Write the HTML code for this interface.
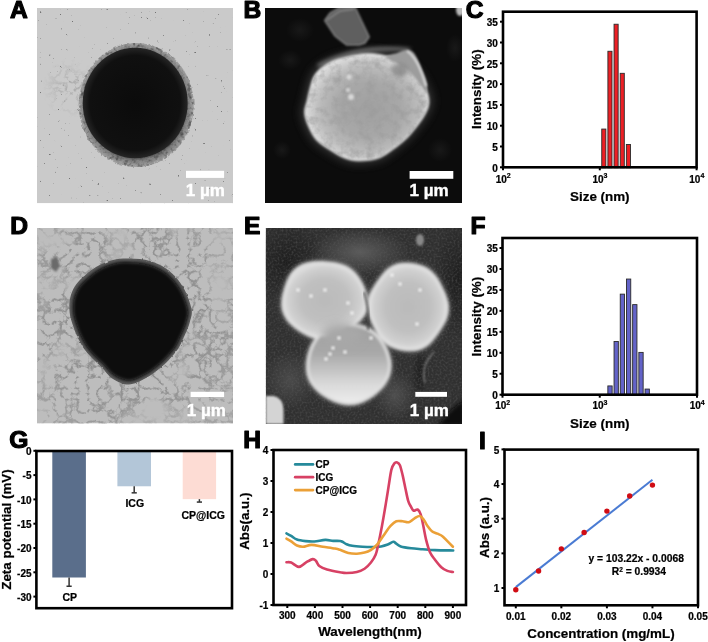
<!DOCTYPE html>
<html><head><meta charset="utf-8"><style>
html,body{margin:0;padding:0;background:#fff;width:708px;height:642px;overflow:hidden}
svg{display:block;will-change:transform}
text{font-family:"Liberation Sans", sans-serif;paint-order:stroke}
.k text,text.k{stroke:#000;stroke-width:0.22px}
</style></head><body>
<svg width="708" height="642" viewBox="0 0 708 642">
<rect width="708" height="642" fill="#fff"/>
<text x="10" y="18" font-size="24.6" text-anchor="start" fill="#000" font-weight="bold" stroke="#000" stroke-width="1.2" stroke-linejoin="round">A</text><text x="243.5" y="18" font-size="24.6" text-anchor="start" fill="#000" font-weight="bold" stroke="#000" stroke-width="1.2" stroke-linejoin="round">B</text><text x="465.7" y="18" font-size="24.6" text-anchor="start" fill="#000" font-weight="bold" stroke="#000" stroke-width="1.2" stroke-linejoin="round">C</text><text x="10.3" y="234.4" font-size="24.6" text-anchor="start" fill="#000" font-weight="bold" stroke="#000" stroke-width="1.2" stroke-linejoin="round">D</text><text x="244" y="234.1" font-size="24.6" text-anchor="start" fill="#000" font-weight="bold" stroke="#000" stroke-width="1.2" stroke-linejoin="round">E</text><text x="470.5" y="234.1" font-size="24.6" text-anchor="start" fill="#000" font-weight="bold" stroke="#000" stroke-width="1.2" stroke-linejoin="round">F</text><text x="9.3" y="448.1" font-size="24.6" text-anchor="start" fill="#000" font-weight="bold" stroke="#000" stroke-width="1.2" stroke-linejoin="round">G</text><text x="243.2" y="448.4" font-size="24.6" text-anchor="start" fill="#000" font-weight="bold" stroke="#000" stroke-width="1.2" stroke-linejoin="round">H</text><text x="478.9" y="448.8" font-size="24.6" text-anchor="start" fill="#000" font-weight="bold" stroke="#000" stroke-width="1.2" stroke-linejoin="round">I</text><defs><clipPath id="cA"><rect x="37" y="8" width="196" height="195.3"/></clipPath><clipPath id="cB"><rect x="265" y="8" width="197" height="195"/></clipPath><clipPath id="cD"><rect x="37" y="228" width="196" height="195.6"/></clipPath><clipPath id="cE"><rect x="265.7" y="228" width="196.3" height="196"/></clipPath><filter id="rough" x="-10%" y="-10%" width="120%" height="120%">
  <feTurbulence type="fractalNoise" baseFrequency="0.3" numOctaves="2" seed="4" result="t"/>
  <feDisplacementMap in="SourceGraphic" in2="t" scale="3.5" xChannelSelector="R" yChannelSelector="G"/>
</filter>
<filter id="rough2" x="-10%" y="-10%" width="120%" height="120%">
  <feTurbulence type="fractalNoise" baseFrequency="0.2" numOctaves="2" seed="4" result="t"/>
  <feDisplacementMap in="SourceGraphic" in2="t" scale="2.2" xChannelSelector="R" yChannelSelector="G"/>
  <feGaussianBlur stdDeviation="0.5"/>
</filter>
<filter id="grainA" x="0" y="0" width="1" height="1" color-interpolation-filters="sRGB">
  <feTurbulence type="fractalNoise" baseFrequency="0.25" numOctaves="2" seed="7" result="n"/>
  <feColorMatrix in="n" type="matrix" values="0 0 0 0 0.3  0 0 0 0 0.3  0 0 0 0 0.3  2.5 0 0 0 -1.2" result="c"/>
  <feComposite in="c" in2="SourceGraphic" operator="in"/>
</filter>
<filter id="dend" x="0" y="0" width="1" height="1" color-interpolation-filters="sRGB">
  <feTurbulence type="turbulence" baseFrequency="0.09" numOctaves="4" seed="11" result="n"/>
  <feColorMatrix in="n" type="matrix" values="0 0 0 0 0.56  0 0 0 0 0.56  0 0 0 0 0.56  -5 0 0 0 1.6" result="a1"/>
  <feTurbulence type="fractalNoise" baseFrequency="0.03" numOctaves="2" seed="3" result="m"/>
  <feColorMatrix in="m" type="matrix" values="0 0 0 0 0  0 0 0 0 0  0 0 0 0 0  3.5 0 0 0 -0.8" result="a2"/>
  <feComposite in="a1" in2="a2" operator="in"/>
</filter>
<filter id="speck" x="0" y="0" width="1" height="1" color-interpolation-filters="sRGB">
  <feTurbulence type="fractalNoise" baseFrequency="0.35" numOctaves="2" seed="21" result="n"/>
  <feColorMatrix in="n" type="matrix" values="0 0 0 0 0.45  0 0 0 0 0.45  0 0 0 0 0.45  -10 0 0 0 2.45"/>
</filter>
<filter id="grain" x="0" y="0" width="1" height="1" color-interpolation-filters="sRGB">
  <feTurbulence type="fractalNoise" baseFrequency="0.45" numOctaves="2" seed="8" result="n"/>
  <feColorMatrix in="n" type="matrix" values="0 0 0 0 1  0 0 0 0 1  0 0 0 0 1  1.2 0 0 0 -0.5"/>
</filter>
<filter id="grainE" x="0" y="0" width="1" height="1" color-interpolation-filters="sRGB">
  <feTurbulence type="fractalNoise" baseFrequency="0.5" numOctaves="2" seed="9" result="n"/>
  <feColorMatrix in="n" type="matrix" values="0 0 0 0 0.36  0 0 0 0 0.36  0 0 0 0 0.36  1.2 0 0 0 -0.5"/>
  <feGaussianBlur stdDeviation="0.6"/>
</filter>
<filter id="grainB" x="0" y="0" width="1" height="1" color-interpolation-filters="sRGB">
  <feTurbulence type="fractalNoise" baseFrequency="0.12" numOctaves="3" seed="15" result="n"/>
  <feColorMatrix in="n" type="matrix" values="0 0 0 0 0.6  0 0 0 0 0.6  0 0 0 0 0.6  1.5 0 0 0 -0.6" result="c"/>
  <feComposite in="c" in2="SourceGraphic" operator="in"/>
</filter>
<filter id="bl15" x="-20%" y="-20%" width="140%" height="140%"><feGaussianBlur stdDeviation="1.4"/></filter>
<filter id="bl1" x="-20%" y="-20%" width="140%" height="140%"><feGaussianBlur stdDeviation="1"/></filter>
<filter id="bl2" x="-30%" y="-30%" width="160%" height="160%"><feGaussianBlur stdDeviation="2"/></filter>
<filter id="bl4" x="-50%" y="-50%" width="200%" height="200%"><feGaussianBlur stdDeviation="4"/></filter>
<filter id="bl8" x="-80%" y="-80%" width="260%" height="260%"><feGaussianBlur stdDeviation="8"/></filter>
<radialGradient id="gB" cx="0.52" cy="0.52" r="0.52">
  <stop offset="0" stop-color="#a0a0a0"/>
  <stop offset="0.5" stop-color="#a8a8a8"/>
  <stop offset="0.78" stop-color="#bcbcbc"/>
  <stop offset="0.93" stop-color="#d2d2d2"/>
  <stop offset="1" stop-color="#dcdcdc"/>
</radialGradient>
<radialGradient id="gE" cx="0.5" cy="0.5" r="0.5">
  <stop offset="0" stop-color="#bababa"/>
  <stop offset="0.6" stop-color="#c0c0c0"/>
  <stop offset="0.9" stop-color="#d0d0d0"/>
  <stop offset="1" stop-color="#dcdcdc"/>
</radialGradient>
<linearGradient id="gE3" x1="0" y1="0" x2="0" y2="1">
  <stop offset="0" stop-color="#a0a0a0"/>
  <stop offset="0.35" stop-color="#a8a8a8"/>
  <stop offset="0.75" stop-color="#d8d8d8"/>
  <stop offset="1" stop-color="#ececec"/>
</linearGradient>
<radialGradient id="gCoreA" cx="0.5" cy="0.5" r="0.5">
  <stop offset="0" stop-color="#0b0b0b"/>
  <stop offset="0.86" stop-color="#101010"/>
  <stop offset="1" stop-color="#262626"/>
</radialGradient>
<radialGradient id="gHaloA" cx="0.5" cy="0.5" r="0.5">
  <stop offset="0.84" stop-color="#505050"/>
  <stop offset="0.9" stop-color="#7c7c7c"/>
  <stop offset="1" stop-color="#a2a2a2"/>
</radialGradient>
<radialGradient id="gSpot" cx="0.5" cy="0.5" r="0.5">
  <stop offset="0" stop-color="#282828" stop-opacity="1"/>
  <stop offset="1" stop-color="#282828" stop-opacity="0"/>
</radialGradient>
<radialGradient id="gMaskD" gradientUnits="userSpaceOnUse" cx="130" cy="322" r="125">
  <stop offset="0.45" stop-color="#fff"/>
  <stop offset="0.75" stop-color="#d8d8d8"/>
  <stop offset="1" stop-color="#909090"/>
</radialGradient>
<mask id="mD" maskUnits="userSpaceOnUse" x="37" y="228" width="196" height="196"><rect x="37" y="228" width="196" height="196" fill="url(#gMaskD)"/></mask>
<radialGradient id="gMaskA" gradientUnits="userSpaceOnUse" cx="72" cy="88" r="30">
  <stop offset="0" stop-color="#fff"/>
  <stop offset="1" stop-color="#000"/>
</radialGradient>
<mask id="mA" maskUnits="userSpaceOnUse" x="37" y="8" width="196" height="196"><rect x="37" y="8" width="196" height="196" fill="url(#gMaskA)"/></mask>
<radialGradient id="gE_bg1" cx="0.5" cy="0.5" r="0.5">
  <stop offset="0" stop-color="#1e1e1e" stop-opacity="1"/>
  <stop offset="1" stop-color="#1e1e1e" stop-opacity="0"/>
</radialGradient>
<radialGradient id="gE_bg2" cx="0.5" cy="0.5" r="0.5">
  <stop offset="0" stop-color="#5c5c5c" stop-opacity="1"/>
  <stop offset="1" stop-color="#5c5c5c" stop-opacity="0"/>
</radialGradient>
</defs><g clip-path="url(#cA)"><rect x="37" y="8" width="196" height="195.3" fill="#cacaca"/><rect x="37" y="8" width="196" height="195.3" filter="url(#speck)"/><rect x="37" y="8" width="196" height="195.3" filter="url(#dend)" mask="url(#mA)" opacity="0.55"/><ellipse cx="136.3" cy="105" rx="57.5" ry="62" fill="url(#gHaloA)" filter="url(#rough)"/><ellipse cx="136.3" cy="105" rx="57.5" ry="62" filter="url(#grainA)"/><ellipse cx="135.2" cy="103" rx="52.5" ry="55.3" fill="url(#gCoreA)"/><rect x="186" y="170.8" width="38.1" height="7.1" fill="#fff"/><text x="185.8" y="196" font-size="17" font-weight="bold" fill="#fff" stroke="#fff" stroke-width="0.4">1 µm</text></g><g clip-path="url(#cB)"><rect x="265" y="8" width="197" height="195" fill="#0c0c0c"/><ellipse cx="290" cy="60" rx="12" ry="10" fill="url(#gSpot)" opacity="0.45"/><ellipse cx="455" cy="48" rx="9" ry="14" fill="url(#gSpot)" opacity="0.45"/><ellipse cx="282" cy="150" rx="9" ry="9" fill="url(#gSpot)" opacity="0.45"/><ellipse cx="300" cy="30" rx="14" ry="12" fill="url(#gSpot)" opacity="0.45"/><ellipse cx="440" cy="150" rx="12" ry="12" fill="url(#gSpot)" opacity="0.45"/><ellipse cx="460" cy="10" rx="4" ry="6" fill="#bbb" filter="url(#bl1)"/><path d="M324.7,20.5 L330,13 L340.3,7 L355,7 L369.2,37 L365,43 L359.3,45 L346.6,45 L335,36 Z" fill="#5e5e5e" stroke="#7e7e7e" stroke-width="1.5" filter="url(#bl1)"/><path d="M327,20 L340,11 L354,9" fill="none" stroke="#8a8a8a" stroke-width="1.5" filter="url(#bl1)"/><path d="M305,112 C304.92,108.17 306.67,104.67 307.5,101 C308.33,97.33 308.97,93.83 310,90 C311.03,86.17 312.03,81.42 313.7,78 C315.37,74.58 316.88,72.25 320,69.5 C323.12,66.75 327.85,63.58 332.4,61.5 C336.95,59.42 341.87,58.25 347.3,57 C352.73,55.75 359.55,54.33 365,54 C370.45,53.67 375,54.17 380,55 C385,55.83 390.33,57.17 395,59 C399.67,60.83 404.17,63.17 408,66 C411.83,68.83 415.17,72.33 418,76 C420.83,79.67 423.28,84.33 425,88 C426.72,91.67 427.83,94.83 428.3,98 C428.77,101.17 428.68,103.83 427.8,107 C426.92,110.17 425,113.67 423,117 C421,120.33 418.42,123.67 415.8,127 C413.18,130.33 410.48,133.83 407.3,137 C404.12,140.17 401.3,142.63 396.7,146 C392.1,149.37 386.05,154.8 379.7,157.2 C373.35,159.6 364.6,160.4 358.6,160.4 C352.6,160.4 348.65,159.15 343.7,157.2 C338.75,155.25 333.48,151.73 328.9,148.7 C324.32,145.67 319.68,143.12 316.2,139 C312.72,134.88 309.87,128.5 308,124 C306.13,119.5 305.08,115.83 305,112 Z" fill="#505050" filter="url(#bl4)" transform="translate(367,107) scale(1.07) translate(-367,-107)" opacity="0.6"/><path d="M318,66 Q360,44 410,50" fill="none" stroke="#8a8a8a" stroke-width="3" filter="url(#bl2)"/><g filter="url(#bl1)"><path d="M305,112 C304.92,108.17 306.67,104.67 307.5,101 C308.33,97.33 308.97,93.83 310,90 C311.03,86.17 312.03,81.42 313.7,78 C315.37,74.58 316.88,72.25 320,69.5 C323.12,66.75 327.85,63.58 332.4,61.5 C336.95,59.42 341.87,58.25 347.3,57 C352.73,55.75 359.55,54.33 365,54 C370.45,53.67 375,54.17 380,55 C385,55.83 390.33,57.17 395,59 C399.67,60.83 404.17,63.17 408,66 C411.83,68.83 415.17,72.33 418,76 C420.83,79.67 423.28,84.33 425,88 C426.72,91.67 427.83,94.83 428.3,98 C428.77,101.17 428.68,103.83 427.8,107 C426.92,110.17 425,113.67 423,117 C421,120.33 418.42,123.67 415.8,127 C413.18,130.33 410.48,133.83 407.3,137 C404.12,140.17 401.3,142.63 396.7,146 C392.1,149.37 386.05,154.8 379.7,157.2 C373.35,159.6 364.6,160.4 358.6,160.4 C352.6,160.4 348.65,159.15 343.7,157.2 C338.75,155.25 333.48,151.73 328.9,148.7 C324.32,145.67 319.68,143.12 316.2,139 C312.72,134.88 309.87,128.5 308,124 C306.13,119.5 305.08,115.83 305,112 Z" fill="url(#gB)"/><path d="M305,112 C304.92,108.17 306.67,104.67 307.5,101 C308.33,97.33 308.97,93.83 310,90 C311.03,86.17 312.03,81.42 313.7,78 C315.37,74.58 316.88,72.25 320,69.5 C323.12,66.75 327.85,63.58 332.4,61.5 C336.95,59.42 341.87,58.25 347.3,57 C352.73,55.75 359.55,54.33 365,54 C370.45,53.67 375,54.17 380,55 C385,55.83 390.33,57.17 395,59 C399.67,60.83 404.17,63.17 408,66 C411.83,68.83 415.17,72.33 418,76 C420.83,79.67 423.28,84.33 425,88 C426.72,91.67 427.83,94.83 428.3,98 C428.77,101.17 428.68,103.83 427.8,107 C426.92,110.17 425,113.67 423,117 C421,120.33 418.42,123.67 415.8,127 C413.18,130.33 410.48,133.83 407.3,137 C404.12,140.17 401.3,142.63 396.7,146 C392.1,149.37 386.05,154.8 379.7,157.2 C373.35,159.6 364.6,160.4 358.6,160.4 C352.6,160.4 348.65,159.15 343.7,157.2 C338.75,155.25 333.48,151.73 328.9,148.7 C324.32,145.67 319.68,143.12 316.2,139 C312.72,134.88 309.87,128.5 308,124 C306.13,119.5 305.08,115.83 305,112 Z" fill="none" stroke="#e8e8e8" stroke-width="2.2" opacity="0.7"/></g><path d="M305,112 C304.92,108.17 306.67,104.67 307.5,101 C308.33,97.33 308.97,93.83 310,90 C311.03,86.17 312.03,81.42 313.7,78 C315.37,74.58 316.88,72.25 320,69.5 C323.12,66.75 327.85,63.58 332.4,61.5 C336.95,59.42 341.87,58.25 347.3,57 C352.73,55.75 359.55,54.33 365,54 C370.45,53.67 375,54.17 380,55 C385,55.83 390.33,57.17 395,59 C399.67,60.83 404.17,63.17 408,66 C411.83,68.83 415.17,72.33 418,76 C420.83,79.67 423.28,84.33 425,88 C426.72,91.67 427.83,94.83 428.3,98 C428.77,101.17 428.68,103.83 427.8,107 C426.92,110.17 425,113.67 423,117 C421,120.33 418.42,123.67 415.8,127 C413.18,130.33 410.48,133.83 407.3,137 C404.12,140.17 401.3,142.63 396.7,146 C392.1,149.37 386.05,154.8 379.7,157.2 C373.35,159.6 364.6,160.4 358.6,160.4 C352.6,160.4 348.65,159.15 343.7,157.2 C338.75,155.25 333.48,151.73 328.9,148.7 C324.32,145.67 319.68,143.12 316.2,139 C312.72,134.88 309.87,128.5 308,124 C306.13,119.5 305.08,115.83 305,112 Z" filter="url(#grainB)" opacity="0.9"/><path d="M386,57 C385.83,55.17 393.67,54.17 397,53 C400.33,51.83 403.33,50.17 406,50 C408.67,49.83 411,50.33 413,52 C415,53.67 416.33,56.67 418,60 C419.67,63.33 421.5,68 423,72 C424.5,76 426.5,80.67 427,84 C427.5,87.33 427.17,92 426,92 C424.83,92 422.67,87.33 420,84 C417.33,80.67 413.67,75.33 410,72 C406.33,68.67 402,66.5 398,64 C394,61.5 386.17,58.83 386,57 Z" fill="#9c9c9c" filter="url(#bl1)"/><path d="M407,51 Q418,58 426,86" fill="none" stroke="#e0e0e0" stroke-width="2" filter="url(#bl1)"/><ellipse cx="400" cy="70" rx="8" ry="7" fill="#888" filter="url(#bl2)" opacity="0.8"/><circle cx="349" cy="77" r="2.5" fill="#d8d8d8" filter="url(#bl1)"/><circle cx="348" cy="90" r="2" fill="#d8d8d8" filter="url(#bl1)"/><circle cx="351" cy="97" r="3" fill="#d8d8d8" filter="url(#bl1)"/><rect x="409.6" y="171" width="43.7" height="7.8" fill="#fff"/><text x="409.5" y="195.8" font-size="17" font-weight="bold" fill="#fff" stroke="#fff" stroke-width="0.4">1 µm</text></g><g clip-path="url(#cD)"><rect x="37" y="228" width="196" height="195.6" fill="#bdbdbd"/><rect x="37" y="228" width="196" height="195.6" filter="url(#dend)" mask="url(#mD)"/><path d="M130,258.6 C136.17,258.77 143.6,259.05 150,261 C156.4,262.95 162.9,265.97 168.4,270.3 C173.9,274.63 179.15,280.55 183,287 C186.85,293.45 190.37,303.17 191.5,309 C192.63,314.83 190.62,318.33 189.8,322 C188.98,325.67 187.82,328 186.6,331 C185.38,334 183.88,337.1 182.5,340 C181.12,342.9 180.3,345.4 178.3,348.4 C176.3,351.4 173.25,354.95 170.5,358 C167.75,361.05 165.88,363.37 161.8,366.7 C157.72,370.03 151.5,375.03 146,378 C140.5,380.97 134.3,384.33 128.8,384.5 C123.3,384.67 117.6,381.97 113,379 C108.4,376.03 104.78,370.28 101.2,366.7 C97.62,363.12 94.4,360.55 91.5,357.5 C88.6,354.45 85.97,351.48 83.8,348.4 C81.63,345.32 80.03,342.07 78.5,339 C76.97,335.93 75.98,333.83 74.6,330 C73.22,326.17 71.05,320.5 70.2,316 C69.35,311.5 69.2,307 69.5,303 C69.8,299 70.42,295.67 72,292 C73.58,288.33 75,285.17 79,281 C83,276.83 90.33,270.5 96,267 C101.67,263.5 107.33,261.4 113,260 C118.67,258.6 123.83,258.43 130,258.6 Z" fill="#5a5a5a" filter="url(#rough2)"/><path d="M130,258.6 C136.17,258.77 143.6,259.05 150,261 C156.4,262.95 162.9,265.97 168.4,270.3 C173.9,274.63 179.15,280.55 183,287 C186.85,293.45 190.37,303.17 191.5,309 C192.63,314.83 190.62,318.33 189.8,322 C188.98,325.67 187.82,328 186.6,331 C185.38,334 183.88,337.1 182.5,340 C181.12,342.9 180.3,345.4 178.3,348.4 C176.3,351.4 173.25,354.95 170.5,358 C167.75,361.05 165.88,363.37 161.8,366.7 C157.72,370.03 151.5,375.03 146,378 C140.5,380.97 134.3,384.33 128.8,384.5 C123.3,384.67 117.6,381.97 113,379 C108.4,376.03 104.78,370.28 101.2,366.7 C97.62,363.12 94.4,360.55 91.5,357.5 C88.6,354.45 85.97,351.48 83.8,348.4 C81.63,345.32 80.03,342.07 78.5,339 C76.97,335.93 75.98,333.83 74.6,330 C73.22,326.17 71.05,320.5 70.2,316 C69.35,311.5 69.2,307 69.5,303 C69.8,299 70.42,295.67 72,292 C73.58,288.33 75,285.17 79,281 C83,276.83 90.33,270.5 96,267 C101.67,263.5 107.33,261.4 113,260 C118.67,258.6 123.83,258.43 130,258.6 Z" fill="#3a3a3a" transform="translate(131,321) scale(0.96) translate(-131,-321)" filter="url(#bl1)"/><path d="M130,258.6 C136.17,258.77 143.6,259.05 150,261 C156.4,262.95 162.9,265.97 168.4,270.3 C173.9,274.63 179.15,280.55 183,287 C186.85,293.45 190.37,303.17 191.5,309 C192.63,314.83 190.62,318.33 189.8,322 C188.98,325.67 187.82,328 186.6,331 C185.38,334 183.88,337.1 182.5,340 C181.12,342.9 180.3,345.4 178.3,348.4 C176.3,351.4 173.25,354.95 170.5,358 C167.75,361.05 165.88,363.37 161.8,366.7 C157.72,370.03 151.5,375.03 146,378 C140.5,380.97 134.3,384.33 128.8,384.5 C123.3,384.67 117.6,381.97 113,379 C108.4,376.03 104.78,370.28 101.2,366.7 C97.62,363.12 94.4,360.55 91.5,357.5 C88.6,354.45 85.97,351.48 83.8,348.4 C81.63,345.32 80.03,342.07 78.5,339 C76.97,335.93 75.98,333.83 74.6,330 C73.22,326.17 71.05,320.5 70.2,316 C69.35,311.5 69.2,307 69.5,303 C69.8,299 70.42,295.67 72,292 C73.58,288.33 75,285.17 79,281 C83,276.83 90.33,270.5 96,267 C101.67,263.5 107.33,261.4 113,260 C118.67,258.6 123.83,258.43 130,258.6 Z" fill="#0e0e0e" transform="translate(132,320) scale(0.93) translate(-132,-320)" filter="url(#bl2)"/><path d="M51,259 L57,257 L60,266 L56,272 L51,268 Z" fill="#6a6a6a" filter="url(#bl1)"/><rect x="190.6" y="391.8" width="33.5" height="5.2" fill="#fff"/><text x="186.8" y="415.8" font-size="17" font-weight="bold" fill="#fff" stroke="#fff" stroke-width="0.4">1 µm</text></g><g clip-path="url(#cE)"><rect x="265.7" y="228" width="196.3" height="196" fill="#303030"/><ellipse cx="288" cy="262" rx="40" ry="42" fill="url(#gE_bg1)"/><ellipse cx="458" cy="280" rx="25" ry="60" fill="url(#gE_bg1)"/><ellipse cx="360" cy="252" rx="50" ry="24" fill="url(#gE_bg2)"/><ellipse cx="290" cy="380" rx="28" ry="30" fill="url(#gE_bg2)" opacity="0.6"/><ellipse cx="395" cy="395" rx="22" ry="25" fill="url(#gE_bg2)" opacity="0.7"/><ellipse cx="420" cy="372" rx="8" ry="28" fill="url(#gE_bg1)"/><rect x="265.7" y="228" width="196.3" height="196" filter="url(#grainE)"/><path d="M438,426 Q448,410 464,400 L464,426 Z" fill="#080808" filter="url(#bl2)"/><path d="M265.7,396 L274,396 Q283,398 283.5,410 L283.5,424 L265.7,424 Z" fill="#d4d4d4" filter="url(#bl1)"/><path d="M434,352 Q420,366 425,383" fill="none" stroke="#7a7a7a" stroke-width="1.5" filter="url(#bl1)"/><ellipse cx="420" cy="240" rx="4" ry="6" fill="#888" filter="url(#bl1)"/><path d="M388.28,364 C388.45,367.24 388.14,370.72 387.21,373.85 C386.28,376.97 384.58,380.04 382.72,382.76 C380.86,385.47 378.47,387.89 376.03,390.13 C373.59,392.38 370.96,394.48 368.1,396.22 C365.23,397.97 362.1,399.64 358.83,400.6 C355.56,401.56 351.92,402.08 348.5,401.99 C345.08,401.91 341.56,401.09 338.31,400.09 C335.07,399.09 331.98,397.6 329.05,395.99 C326.11,394.37 323.22,392.57 320.69,390.4 C318.16,388.24 315.65,385.76 313.85,382.99 C312.06,380.22 310.69,376.98 309.93,373.81 C309.17,370.65 309.12,367.23 309.28,364 C309.45,360.77 310.07,357.56 310.9,354.44 C311.74,351.31 312.76,348.15 314.3,345.26 C315.85,342.37 317.79,339.43 320.17,337.1 C322.55,334.77 325.56,332.76 328.6,331.27 C331.63,329.78 335.07,328.87 338.38,328.15 C341.7,327.44 345.1,327.08 348.5,326.99 C351.9,326.91 355.42,326.98 358.76,327.65 C362.1,328.32 365.58,329.42 368.55,331.04 C371.51,332.66 374.26,334.96 376.55,337.37 C378.84,339.78 380.65,342.65 382.27,345.49 C383.89,348.33 385.24,351.31 386.24,354.4 C387.24,357.48 388.12,360.76 388.28,364 Z" fill="#8a8a8a" filter="url(#bl4)" transform="translate(348.5,364) scale(1.05) translate(-348.5,-364)" opacity="0.6"/><path d="M364.8,299.5 C365.11,302.65 365.07,306.14 364.12,309.17 C363.16,312.21 361.2,315.23 359.07,317.73 C356.95,320.22 354.04,322.2 351.38,324.15 C348.73,326.09 346.02,327.73 343.17,329.38 C340.32,331.02 337.47,332.84 334.27,334.01 C331.08,335.18 327.47,336.24 324,336.4 C320.53,336.56 316.76,335.95 313.43,334.99 C310.11,334.03 306.97,332.31 304.03,330.63 C301.1,328.94 298.33,327.02 295.82,324.87 C293.3,322.72 290.73,320.38 288.93,317.73 C287.12,315.07 285.66,311.95 284.98,308.91 C284.29,305.87 284.49,302.56 284.8,299.5 C285.11,296.44 286.01,293.5 286.84,290.54 C287.67,287.58 288.46,284.61 289.79,281.73 C291.12,278.84 292.59,275.68 294.82,273.23 C297.04,270.78 300.04,268.49 303.17,267.02 C306.29,265.56 310.1,264.9 313.57,264.46 C317.04,264.02 320.57,264.24 324,264.4 C327.43,264.56 330.8,264.8 334.14,265.44 C337.48,266.09 340.99,266.85 344.03,268.27 C347.07,269.69 350.02,271.71 352.38,273.95 C354.75,276.2 356.56,279 358.21,281.72 C359.85,284.45 361.15,287.31 362.25,290.28 C363.35,293.24 364.49,296.35 364.8,299.5 Z" fill="#8a8a8a" filter="url(#bl4)" transform="translate(324,299.5) scale(1.05) translate(-324,-299.5)" opacity="0.6"/><path d="M445.66,307 C445.79,310.56 445.04,314.47 443.9,317.81 C442.76,321.14 440.63,324.1 438.84,327 C437.05,329.91 435.21,332.6 433.14,335.24 C431.07,337.88 429.01,340.82 426.42,342.84 C423.83,344.85 420.69,346.48 417.62,347.33 C414.55,348.18 411.17,348.07 408,347.92 C404.83,347.78 401.65,347.32 398.58,346.47 C395.51,345.62 392.29,344.61 389.58,342.84 C386.87,341.07 384.37,338.51 382.3,335.87 C380.23,333.23 378.73,330.05 377.16,327 C375.59,323.95 374,320.91 372.86,317.58 C371.72,314.24 370.47,310.56 370.34,307 C370.21,303.44 370.96,299.53 372.1,296.19 C373.24,292.86 375.37,289.9 377.16,287 C378.95,284.09 380.79,281.4 382.86,278.76 C384.93,276.12 386.99,273.18 389.58,271.16 C392.17,269.15 395.31,267.52 398.38,266.67 C401.45,265.82 404.83,265.93 408,266.08 C411.17,266.22 414.35,266.68 417.42,267.53 C420.49,268.38 423.71,269.39 426.42,271.16 C429.13,272.93 431.63,275.49 433.7,278.13 C435.77,280.77 437.27,283.95 438.84,287 C440.41,290.05 442,293.09 443.14,296.42 C444.28,299.76 445.53,303.44 445.66,307 Z" fill="#8a8a8a" filter="url(#bl4)" transform="translate(408,307) scale(1.05) translate(-408,-307)" opacity="0.6"/><path d="M388.28,364 C388.45,367.24 388.14,370.72 387.21,373.85 C386.28,376.97 384.58,380.04 382.72,382.76 C380.86,385.47 378.47,387.89 376.03,390.13 C373.59,392.38 370.96,394.48 368.1,396.22 C365.23,397.97 362.1,399.64 358.83,400.6 C355.56,401.56 351.92,402.08 348.5,401.99 C345.08,401.91 341.56,401.09 338.31,400.09 C335.07,399.09 331.98,397.6 329.05,395.99 C326.11,394.37 323.22,392.57 320.69,390.4 C318.16,388.24 315.65,385.76 313.85,382.99 C312.06,380.22 310.69,376.98 309.93,373.81 C309.17,370.65 309.12,367.23 309.28,364 C309.45,360.77 310.07,357.56 310.9,354.44 C311.74,351.31 312.76,348.15 314.3,345.26 C315.85,342.37 317.79,339.43 320.17,337.1 C322.55,334.77 325.56,332.76 328.6,331.27 C331.63,329.78 335.07,328.87 338.38,328.15 C341.7,327.44 345.1,327.08 348.5,326.99 C351.9,326.91 355.42,326.98 358.76,327.65 C362.1,328.32 365.58,329.42 368.55,331.04 C371.51,332.66 374.26,334.96 376.55,337.37 C378.84,339.78 380.65,342.65 382.27,345.49 C383.89,348.33 385.24,351.31 386.24,354.4 C387.24,357.48 388.12,360.76 388.28,364 Z" fill="none" stroke="#c8c8c8" stroke-width="6" filter="url(#bl2)" opacity="0.8"/><path d="M364.8,299.5 C365.11,302.65 365.07,306.14 364.12,309.17 C363.16,312.21 361.2,315.23 359.07,317.73 C356.95,320.22 354.04,322.2 351.38,324.15 C348.73,326.09 346.02,327.73 343.17,329.38 C340.32,331.02 337.47,332.84 334.27,334.01 C331.08,335.18 327.47,336.24 324,336.4 C320.53,336.56 316.76,335.95 313.43,334.99 C310.11,334.03 306.97,332.31 304.03,330.63 C301.1,328.94 298.33,327.02 295.82,324.87 C293.3,322.72 290.73,320.38 288.93,317.73 C287.12,315.07 285.66,311.95 284.98,308.91 C284.29,305.87 284.49,302.56 284.8,299.5 C285.11,296.44 286.01,293.5 286.84,290.54 C287.67,287.58 288.46,284.61 289.79,281.73 C291.12,278.84 292.59,275.68 294.82,273.23 C297.04,270.78 300.04,268.49 303.17,267.02 C306.29,265.56 310.1,264.9 313.57,264.46 C317.04,264.02 320.57,264.24 324,264.4 C327.43,264.56 330.8,264.8 334.14,265.44 C337.48,266.09 340.99,266.85 344.03,268.27 C347.07,269.69 350.02,271.71 352.38,273.95 C354.75,276.2 356.56,279 358.21,281.72 C359.85,284.45 361.15,287.31 362.25,290.28 C363.35,293.24 364.49,296.35 364.8,299.5 Z" fill="none" stroke="#c8c8c8" stroke-width="6" filter="url(#bl2)" opacity="0.8"/><path d="M445.66,307 C445.79,310.56 445.04,314.47 443.9,317.81 C442.76,321.14 440.63,324.1 438.84,327 C437.05,329.91 435.21,332.6 433.14,335.24 C431.07,337.88 429.01,340.82 426.42,342.84 C423.83,344.85 420.69,346.48 417.62,347.33 C414.55,348.18 411.17,348.07 408,347.92 C404.83,347.78 401.65,347.32 398.58,346.47 C395.51,345.62 392.29,344.61 389.58,342.84 C386.87,341.07 384.37,338.51 382.3,335.87 C380.23,333.23 378.73,330.05 377.16,327 C375.59,323.95 374,320.91 372.86,317.58 C371.72,314.24 370.47,310.56 370.34,307 C370.21,303.44 370.96,299.53 372.1,296.19 C373.24,292.86 375.37,289.9 377.16,287 C378.95,284.09 380.79,281.4 382.86,278.76 C384.93,276.12 386.99,273.18 389.58,271.16 C392.17,269.15 395.31,267.52 398.38,266.67 C401.45,265.82 404.83,265.93 408,266.08 C411.17,266.22 414.35,266.68 417.42,267.53 C420.49,268.38 423.71,269.39 426.42,271.16 C429.13,272.93 431.63,275.49 433.7,278.13 C435.77,280.77 437.27,283.95 438.84,287 C440.41,290.05 442,293.09 443.14,296.42 C444.28,299.76 445.53,303.44 445.66,307 Z" fill="none" stroke="#c8c8c8" stroke-width="6" filter="url(#bl2)" opacity="0.8"/><g filter="url(#bl15)"><path d="M388.28,364 C388.45,367.24 388.14,370.72 387.21,373.85 C386.28,376.97 384.58,380.04 382.72,382.76 C380.86,385.47 378.47,387.89 376.03,390.13 C373.59,392.38 370.96,394.48 368.1,396.22 C365.23,397.97 362.1,399.64 358.83,400.6 C355.56,401.56 351.92,402.08 348.5,401.99 C345.08,401.91 341.56,401.09 338.31,400.09 C335.07,399.09 331.98,397.6 329.05,395.99 C326.11,394.37 323.22,392.57 320.69,390.4 C318.16,388.24 315.65,385.76 313.85,382.99 C312.06,380.22 310.69,376.98 309.93,373.81 C309.17,370.65 309.12,367.23 309.28,364 C309.45,360.77 310.07,357.56 310.9,354.44 C311.74,351.31 312.76,348.15 314.3,345.26 C315.85,342.37 317.79,339.43 320.17,337.1 C322.55,334.77 325.56,332.76 328.6,331.27 C331.63,329.78 335.07,328.87 338.38,328.15 C341.7,327.44 345.1,327.08 348.5,326.99 C351.9,326.91 355.42,326.98 358.76,327.65 C362.1,328.32 365.58,329.42 368.55,331.04 C371.51,332.66 374.26,334.96 376.55,337.37 C378.84,339.78 380.65,342.65 382.27,345.49 C383.89,348.33 385.24,351.31 386.24,354.4 C387.24,357.48 388.12,360.76 388.28,364 Z" fill="none" stroke="#e2e2e2" stroke-width="5"/><path d="M364.8,299.5 C365.11,302.65 365.07,306.14 364.12,309.17 C363.16,312.21 361.2,315.23 359.07,317.73 C356.95,320.22 354.04,322.2 351.38,324.15 C348.73,326.09 346.02,327.73 343.17,329.38 C340.32,331.02 337.47,332.84 334.27,334.01 C331.08,335.18 327.47,336.24 324,336.4 C320.53,336.56 316.76,335.95 313.43,334.99 C310.11,334.03 306.97,332.31 304.03,330.63 C301.1,328.94 298.33,327.02 295.82,324.87 C293.3,322.72 290.73,320.38 288.93,317.73 C287.12,315.07 285.66,311.95 284.98,308.91 C284.29,305.87 284.49,302.56 284.8,299.5 C285.11,296.44 286.01,293.5 286.84,290.54 C287.67,287.58 288.46,284.61 289.79,281.73 C291.12,278.84 292.59,275.68 294.82,273.23 C297.04,270.78 300.04,268.49 303.17,267.02 C306.29,265.56 310.1,264.9 313.57,264.46 C317.04,264.02 320.57,264.24 324,264.4 C327.43,264.56 330.8,264.8 334.14,265.44 C337.48,266.09 340.99,266.85 344.03,268.27 C347.07,269.69 350.02,271.71 352.38,273.95 C354.75,276.2 356.56,279 358.21,281.72 C359.85,284.45 361.15,287.31 362.25,290.28 C363.35,293.24 364.49,296.35 364.8,299.5 Z" fill="none" stroke="#e2e2e2" stroke-width="5"/><path d="M445.66,307 C445.79,310.56 445.04,314.47 443.9,317.81 C442.76,321.14 440.63,324.1 438.84,327 C437.05,329.91 435.21,332.6 433.14,335.24 C431.07,337.88 429.01,340.82 426.42,342.84 C423.83,344.85 420.69,346.48 417.62,347.33 C414.55,348.18 411.17,348.07 408,347.92 C404.83,347.78 401.65,347.32 398.58,346.47 C395.51,345.62 392.29,344.61 389.58,342.84 C386.87,341.07 384.37,338.51 382.3,335.87 C380.23,333.23 378.73,330.05 377.16,327 C375.59,323.95 374,320.91 372.86,317.58 C371.72,314.24 370.47,310.56 370.34,307 C370.21,303.44 370.96,299.53 372.1,296.19 C373.24,292.86 375.37,289.9 377.16,287 C378.95,284.09 380.79,281.4 382.86,278.76 C384.93,276.12 386.99,273.18 389.58,271.16 C392.17,269.15 395.31,267.52 398.38,266.67 C401.45,265.82 404.83,265.93 408,266.08 C411.17,266.22 414.35,266.68 417.42,267.53 C420.49,268.38 423.71,269.39 426.42,271.16 C429.13,272.93 431.63,275.49 433.7,278.13 C435.77,280.77 437.27,283.95 438.84,287 C440.41,290.05 442,293.09 443.14,296.42 C444.28,299.76 445.53,303.44 445.66,307 Z" fill="none" stroke="#e2e2e2" stroke-width="5"/><path d="M388.28,364 C388.45,367.24 388.14,370.72 387.21,373.85 C386.28,376.97 384.58,380.04 382.72,382.76 C380.86,385.47 378.47,387.89 376.03,390.13 C373.59,392.38 370.96,394.48 368.1,396.22 C365.23,397.97 362.1,399.64 358.83,400.6 C355.56,401.56 351.92,402.08 348.5,401.99 C345.08,401.91 341.56,401.09 338.31,400.09 C335.07,399.09 331.98,397.6 329.05,395.99 C326.11,394.37 323.22,392.57 320.69,390.4 C318.16,388.24 315.65,385.76 313.85,382.99 C312.06,380.22 310.69,376.98 309.93,373.81 C309.17,370.65 309.12,367.23 309.28,364 C309.45,360.77 310.07,357.56 310.9,354.44 C311.74,351.31 312.76,348.15 314.3,345.26 C315.85,342.37 317.79,339.43 320.17,337.1 C322.55,334.77 325.56,332.76 328.6,331.27 C331.63,329.78 335.07,328.87 338.38,328.15 C341.7,327.44 345.1,327.08 348.5,326.99 C351.9,326.91 355.42,326.98 358.76,327.65 C362.1,328.32 365.58,329.42 368.55,331.04 C371.51,332.66 374.26,334.96 376.55,337.37 C378.84,339.78 380.65,342.65 382.27,345.49 C383.89,348.33 385.24,351.31 386.24,354.4 C387.24,357.48 388.12,360.76 388.28,364 Z" fill="url(#gE3)"/><path d="M364.8,299.5 C365.11,302.65 365.07,306.14 364.12,309.17 C363.16,312.21 361.2,315.23 359.07,317.73 C356.95,320.22 354.04,322.2 351.38,324.15 C348.73,326.09 346.02,327.73 343.17,329.38 C340.32,331.02 337.47,332.84 334.27,334.01 C331.08,335.18 327.47,336.24 324,336.4 C320.53,336.56 316.76,335.95 313.43,334.99 C310.11,334.03 306.97,332.31 304.03,330.63 C301.1,328.94 298.33,327.02 295.82,324.87 C293.3,322.72 290.73,320.38 288.93,317.73 C287.12,315.07 285.66,311.95 284.98,308.91 C284.29,305.87 284.49,302.56 284.8,299.5 C285.11,296.44 286.01,293.5 286.84,290.54 C287.67,287.58 288.46,284.61 289.79,281.73 C291.12,278.84 292.59,275.68 294.82,273.23 C297.04,270.78 300.04,268.49 303.17,267.02 C306.29,265.56 310.1,264.9 313.57,264.46 C317.04,264.02 320.57,264.24 324,264.4 C327.43,264.56 330.8,264.8 334.14,265.44 C337.48,266.09 340.99,266.85 344.03,268.27 C347.07,269.69 350.02,271.71 352.38,273.95 C354.75,276.2 356.56,279 358.21,281.72 C359.85,284.45 361.15,287.31 362.25,290.28 C363.35,293.24 364.49,296.35 364.8,299.5 Z" fill="url(#gE)"/><path d="M445.66,307 C445.79,310.56 445.04,314.47 443.9,317.81 C442.76,321.14 440.63,324.1 438.84,327 C437.05,329.91 435.21,332.6 433.14,335.24 C431.07,337.88 429.01,340.82 426.42,342.84 C423.83,344.85 420.69,346.48 417.62,347.33 C414.55,348.18 411.17,348.07 408,347.92 C404.83,347.78 401.65,347.32 398.58,346.47 C395.51,345.62 392.29,344.61 389.58,342.84 C386.87,341.07 384.37,338.51 382.3,335.87 C380.23,333.23 378.73,330.05 377.16,327 C375.59,323.95 374,320.91 372.86,317.58 C371.72,314.24 370.47,310.56 370.34,307 C370.21,303.44 370.96,299.53 372.1,296.19 C373.24,292.86 375.37,289.9 377.16,287 C378.95,284.09 380.79,281.4 382.86,278.76 C384.93,276.12 386.99,273.18 389.58,271.16 C392.17,269.15 395.31,267.52 398.38,266.67 C401.45,265.82 404.83,265.93 408,266.08 C411.17,266.22 414.35,266.68 417.42,267.53 C420.49,268.38 423.71,269.39 426.42,271.16 C429.13,272.93 431.63,275.49 433.7,278.13 C435.77,280.77 437.27,283.95 438.84,287 C440.41,290.05 442,293.09 443.14,296.42 C444.28,299.76 445.53,303.44 445.66,307 Z" fill="url(#gE)"/></g><ellipse cx="342" cy="335" rx="20" ry="11" fill="#a8a8a8" filter="url(#bl4)"/><path d="M364,292 Q370,310 368,330" fill="none" stroke="#444" stroke-width="2.5" filter="url(#bl1)" opacity="0.7"/><circle cx="298" cy="290" r="1.8" fill="#f2f2f2" filter="url(#bl1)"/><circle cx="311" cy="296" r="1.8" fill="#f2f2f2" filter="url(#bl1)"/><circle cx="325" cy="290" r="1.8" fill="#f2f2f2" filter="url(#bl1)"/><circle cx="348" cy="303" r="1.8" fill="#f2f2f2" filter="url(#bl1)"/><circle cx="352" cy="313" r="1.8" fill="#f2f2f2" filter="url(#bl1)"/><circle cx="333" cy="348" r="1.8" fill="#f2f2f2" filter="url(#bl1)"/><circle cx="330" cy="354" r="1.8" fill="#f2f2f2" filter="url(#bl1)"/><circle cx="345" cy="352" r="1.8" fill="#f2f2f2" filter="url(#bl1)"/><circle cx="339" cy="338" r="1.8" fill="#f2f2f2" filter="url(#bl1)"/><circle cx="400" cy="284" r="1.8" fill="#f2f2f2" filter="url(#bl1)"/><circle cx="420" cy="290" r="1.8" fill="#f2f2f2" filter="url(#bl1)"/><circle cx="417" cy="324" r="1.8" fill="#f2f2f2" filter="url(#bl1)"/><circle cx="371" cy="338" r="1.8" fill="#f2f2f2" filter="url(#bl1)"/><circle cx="392" cy="275" r="1.8" fill="#f2f2f2" filter="url(#bl1)"/><circle cx="326" cy="359" r="1.8" fill="#f2f2f2" filter="url(#bl1)"/><rect x="415.3" y="391.9" width="31.7" height="4.9" fill="#fff"/><text x="409.8" y="415.6" font-size="17" font-weight="bold" fill="#fff" stroke="#fff" stroke-width="0.4">1 µm</text></g><g class="k"><rect x="601.75" y="129.06" width="4.1" height="38.69" fill="#ec1f24" stroke="#2a2a2a" stroke-width="0.9"/><rect x="607.9" y="51.27" width="4.1" height="116.48" fill="#ec1f24" stroke="#2a2a2a" stroke-width="0.9"/><rect x="614.05" y="24.23" width="4.1" height="143.52" fill="#ec1f24" stroke="#2a2a2a" stroke-width="0.9"/><rect x="620.2" y="73.32" width="4.1" height="94.43" fill="#ec1f24" stroke="#2a2a2a" stroke-width="0.9"/><rect x="626.35" y="144.45" width="4.1" height="23.3" fill="#ec1f24" stroke="#2a2a2a" stroke-width="0.9"/><rect x="503" y="11.7" width="193.6" height="155.6" fill="none" stroke="#000" stroke-width="2.6"/><line x1="500" y1="167.3" x2="503" y2="167.3" stroke="#000" stroke-width="2.0"/><text x="497.9" y="171.6" font-size="10" text-anchor="end" fill="#000" font-weight="bold" >0</text><line x1="500" y1="146.5" x2="503" y2="146.5" stroke="#000" stroke-width="2.0"/><text x="497.9" y="150.8" font-size="10" text-anchor="end" fill="#000" font-weight="bold" >5</text><line x1="500" y1="125.7" x2="503" y2="125.7" stroke="#000" stroke-width="2.0"/><text x="497.9" y="130" font-size="10" text-anchor="end" fill="#000" font-weight="bold" >10</text><line x1="500" y1="104.9" x2="503" y2="104.9" stroke="#000" stroke-width="2.0"/><text x="497.9" y="109.2" font-size="10" text-anchor="end" fill="#000" font-weight="bold" >15</text><line x1="500" y1="84.1" x2="503" y2="84.1" stroke="#000" stroke-width="2.0"/><text x="497.9" y="88.4" font-size="10" text-anchor="end" fill="#000" font-weight="bold" >20</text><line x1="500" y1="63.3" x2="503" y2="63.3" stroke="#000" stroke-width="2.0"/><text x="497.9" y="67.6" font-size="10" text-anchor="end" fill="#000" font-weight="bold" >25</text><line x1="500" y1="42.5" x2="503" y2="42.5" stroke="#000" stroke-width="2.0"/><text x="497.9" y="46.8" font-size="10" text-anchor="end" fill="#000" font-weight="bold" >30</text><line x1="500" y1="21.7" x2="503" y2="21.7" stroke="#000" stroke-width="2.0"/><text x="497.9" y="26" font-size="10" text-anchor="end" fill="#000" font-weight="bold" >35</text><line x1="503" y1="167.3" x2="503" y2="170.3" stroke="#000" stroke-width="2.0"/><text x="503.2" y="182.6" font-size="10" font-weight="bold" text-anchor="middle">10<tspan font-size="7" dy="-4.5">2</tspan></text><line x1="599.8" y1="167.3" x2="599.8" y2="170.3" stroke="#000" stroke-width="2.0"/><text x="600" y="182.6" font-size="10" font-weight="bold" text-anchor="middle">10<tspan font-size="7" dy="-4.5">3</tspan></text><line x1="696.6" y1="167.3" x2="696.6" y2="170.3" stroke="#000" stroke-width="2.0"/><text x="696.8" y="182.6" font-size="10" font-weight="bold" text-anchor="middle">10<tspan font-size="7" dy="-4.5">4</tspan></text><text x="599.8" y="200.6" font-size="13.4" text-anchor="middle" fill="#000" font-weight="bold" >Size (nm)</text><text x="0" y="0" font-size="13.4" text-anchor="middle" font-weight="bold" transform="translate(481.4,89.2) rotate(-90)">Intensity (%)</text><rect x="607.85" y="385.93" width="4.3" height="9.22" fill="#6363c8" stroke="#2a2a2a" stroke-width="0.9"/><rect x="614.05" y="341.5" width="4.3" height="53.65" fill="#6363c8" stroke="#2a2a2a" stroke-width="0.9"/><rect x="620.25" y="294.14" width="4.3" height="101.01" fill="#6363c8" stroke="#2a2a2a" stroke-width="0.9"/><rect x="626.45" y="279.05" width="4.3" height="116.1" fill="#6363c8" stroke="#2a2a2a" stroke-width="0.9"/><rect x="632.65" y="304.62" width="4.3" height="90.53" fill="#6363c8" stroke="#2a2a2a" stroke-width="0.9"/><rect x="638.85" y="352.4" width="4.3" height="42.75" fill="#6363c8" stroke="#2a2a2a" stroke-width="0.9"/><rect x="645.05" y="389.07" width="4.3" height="6.08" fill="#6363c8" stroke="#2a2a2a" stroke-width="0.9"/><rect x="502.5" y="238" width="194.5" height="156.7" fill="none" stroke="#000" stroke-width="2.6"/><line x1="499.5" y1="394.7" x2="502.5" y2="394.7" stroke="#000" stroke-width="2.0"/><text x="497.9" y="399" font-size="10" text-anchor="end" fill="#000" font-weight="bold" >0</text><line x1="499.5" y1="373.74" x2="502.5" y2="373.74" stroke="#000" stroke-width="2.0"/><text x="497.9" y="378.04" font-size="10" text-anchor="end" fill="#000" font-weight="bold" >5</text><line x1="499.5" y1="352.79" x2="502.5" y2="352.79" stroke="#000" stroke-width="2.0"/><text x="497.9" y="357.09" font-size="10" text-anchor="end" fill="#000" font-weight="bold" >10</text><line x1="499.5" y1="331.83" x2="502.5" y2="331.83" stroke="#000" stroke-width="2.0"/><text x="497.9" y="336.13" font-size="10" text-anchor="end" fill="#000" font-weight="bold" >15</text><line x1="499.5" y1="310.87" x2="502.5" y2="310.87" stroke="#000" stroke-width="2.0"/><text x="497.9" y="315.17" font-size="10" text-anchor="end" fill="#000" font-weight="bold" >20</text><line x1="499.5" y1="289.91" x2="502.5" y2="289.91" stroke="#000" stroke-width="2.0"/><text x="497.9" y="294.21" font-size="10" text-anchor="end" fill="#000" font-weight="bold" >25</text><line x1="499.5" y1="268.96" x2="502.5" y2="268.96" stroke="#000" stroke-width="2.0"/><text x="497.9" y="273.26" font-size="10" text-anchor="end" fill="#000" font-weight="bold" >30</text><line x1="499.5" y1="248" x2="502.5" y2="248" stroke="#000" stroke-width="2.0"/><text x="497.9" y="252.3" font-size="10" text-anchor="end" fill="#000" font-weight="bold" >35</text><line x1="502.5" y1="394.7" x2="502.5" y2="397.7" stroke="#000" stroke-width="2.0"/><text x="502.7" y="409" font-size="10" font-weight="bold" text-anchor="middle">10<tspan font-size="7" dy="-4.5">2</tspan></text><line x1="599.75" y1="394.7" x2="599.75" y2="397.7" stroke="#000" stroke-width="2.0"/><text x="599.95" y="409" font-size="10" font-weight="bold" text-anchor="middle">10<tspan font-size="7" dy="-4.5">3</tspan></text><line x1="697" y1="394.7" x2="697" y2="397.7" stroke="#000" stroke-width="2.0"/><text x="697.2" y="409" font-size="10" font-weight="bold" text-anchor="middle">10<tspan font-size="7" dy="-4.5">4</tspan></text><text x="599.75" y="428" font-size="13.4" text-anchor="middle" fill="#000" font-weight="bold" >Size (nm)</text><text x="0" y="0" font-size="13.4" text-anchor="middle" font-weight="bold" transform="translate(481.2,316.6) rotate(-90)">Intensity (%)</text><rect x="52.3" y="451" width="33.6" height="126.5" fill="#5a6e8b"/><line x1="69.1" y1="577.5" x2="69.1" y2="586.25" stroke="#333" stroke-width="1.5"/><line x1="66.5" y1="586.25" x2="71.7" y2="586.25" stroke="#333" stroke-width="1.5"/><text x="69.7" y="601.1" font-size="10.5" text-anchor="middle" fill="#000" font-weight="bold" >CP</text><rect x="117.4" y="451" width="33.6" height="35.28" fill="#b3c6d8"/><line x1="134.2" y1="486.28" x2="134.2" y2="492.84" stroke="#333" stroke-width="1.5"/><line x1="131.6" y1="492.84" x2="136.8" y2="492.84" stroke="#333" stroke-width="1.5"/><text x="134.8" y="507.3" font-size="10.5" text-anchor="middle" fill="#000" font-weight="bold" >ICG</text><rect x="182.7" y="451" width="33.4" height="48.16" fill="#fddcd4"/><line x1="199.4" y1="499.16" x2="199.4" y2="502.07" stroke="#333" stroke-width="1.5"/><line x1="196.8" y1="502.07" x2="202" y2="502.07" stroke="#333" stroke-width="1.5"/><text x="203.2" y="518.7" font-size="10.5" text-anchor="middle" fill="#000" font-weight="bold" >CP@ICG</text><rect x="36.4" y="451" width="195.6" height="157.2" fill="none" stroke="#000" stroke-width="2.6"/><line x1="33.4" y1="450.8" x2="36.4" y2="450.8" stroke="#000" stroke-width="2.0"/><text x="31.5" y="455.1" font-size="10" text-anchor="end" fill="#000" font-weight="bold" >0</text><line x1="33.4" y1="475.1" x2="36.4" y2="475.1" stroke="#000" stroke-width="2.0"/><text x="31.5" y="479.4" font-size="10" text-anchor="end" fill="#000" font-weight="bold" >-5</text><line x1="33.4" y1="499.4" x2="36.4" y2="499.4" stroke="#000" stroke-width="2.0"/><text x="31.5" y="503.7" font-size="10" text-anchor="end" fill="#000" font-weight="bold" >-10</text><line x1="33.4" y1="523.7" x2="36.4" y2="523.7" stroke="#000" stroke-width="2.0"/><text x="31.5" y="528" font-size="10" text-anchor="end" fill="#000" font-weight="bold" >-15</text><line x1="33.4" y1="548" x2="36.4" y2="548" stroke="#000" stroke-width="2.0"/><text x="31.5" y="552.3" font-size="10" text-anchor="end" fill="#000" font-weight="bold" >-20</text><line x1="33.4" y1="572.3" x2="36.4" y2="572.3" stroke="#000" stroke-width="2.0"/><text x="31.5" y="576.6" font-size="10" text-anchor="end" fill="#000" font-weight="bold" >-25</text><line x1="33.4" y1="596.6" x2="36.4" y2="596.6" stroke="#000" stroke-width="2.0"/><text x="31.5" y="600.9" font-size="10" text-anchor="end" fill="#000" font-weight="bold" >-30</text><text x="0" y="0" font-size="13.4" text-anchor="middle" font-weight="bold" transform="translate(11,529.5) rotate(-90)">Zeta potential (mV)</text><rect x="273.5" y="450" width="192.5" height="155" fill="none" stroke="#000" stroke-width="2.6"/><line x1="270.5" y1="450" x2="273.5" y2="450" stroke="#000" stroke-width="2.0"/><text x="268.4" y="454.3" font-size="10" text-anchor="end" fill="#000" font-weight="bold" >4</text><line x1="270.5" y1="481" x2="273.5" y2="481" stroke="#000" stroke-width="2.0"/><text x="268.4" y="485.3" font-size="10" text-anchor="end" fill="#000" font-weight="bold" >3</text><line x1="270.5" y1="512" x2="273.5" y2="512" stroke="#000" stroke-width="2.0"/><text x="268.4" y="516.3" font-size="10" text-anchor="end" fill="#000" font-weight="bold" >2</text><line x1="270.5" y1="543" x2="273.5" y2="543" stroke="#000" stroke-width="2.0"/><text x="268.4" y="547.3" font-size="10" text-anchor="end" fill="#000" font-weight="bold" >1</text><line x1="270.5" y1="574" x2="273.5" y2="574" stroke="#000" stroke-width="2.0"/><text x="268.4" y="578.3" font-size="10" text-anchor="end" fill="#000" font-weight="bold" >0</text><line x1="270.5" y1="605" x2="273.5" y2="605" stroke="#000" stroke-width="2.0"/><text x="268.4" y="609.3" font-size="10" text-anchor="end" fill="#000" font-weight="bold" >-1</text><line x1="287.3" y1="605" x2="287.3" y2="608" stroke="#000" stroke-width="2.0"/><text x="287.3" y="619.4" font-size="10" text-anchor="middle" fill="#000" font-weight="bold" >300</text><line x1="314.9" y1="605" x2="314.9" y2="608" stroke="#000" stroke-width="2.0"/><text x="314.9" y="619.4" font-size="10" text-anchor="middle" fill="#000" font-weight="bold" >400</text><line x1="342.5" y1="605" x2="342.5" y2="608" stroke="#000" stroke-width="2.0"/><text x="342.5" y="619.4" font-size="10" text-anchor="middle" fill="#000" font-weight="bold" >500</text><line x1="370.1" y1="605" x2="370.1" y2="608" stroke="#000" stroke-width="2.0"/><text x="370.1" y="619.4" font-size="10" text-anchor="middle" fill="#000" font-weight="bold" >600</text><line x1="397.7" y1="605" x2="397.7" y2="608" stroke="#000" stroke-width="2.0"/><text x="397.7" y="619.4" font-size="10" text-anchor="middle" fill="#000" font-weight="bold" >700</text><line x1="425.3" y1="605" x2="425.3" y2="608" stroke="#000" stroke-width="2.0"/><text x="425.3" y="619.4" font-size="10" text-anchor="middle" fill="#000" font-weight="bold" >800</text><line x1="452.9" y1="605" x2="452.9" y2="608" stroke="#000" stroke-width="2.0"/><text x="452.9" y="619.4" font-size="10" text-anchor="middle" fill="#000" font-weight="bold" >900</text><text x="0" y="0" font-size="13.4" text-anchor="middle" font-weight="bold" transform="translate(249,521.2) rotate(-90)">Abs(a.u.)</text><text x="370" y="636.2" font-size="13.4" text-anchor="middle" fill="#000" font-weight="bold" >Wavelength(nm)</text><path d="M286.47,533.39 C287.25,533.8 289.42,534.84 291.16,535.87 C292.91,536.9 294.52,538.71 296.96,539.59 C299.4,540.47 302.89,540.83 305.79,541.14 C308.69,541.45 311.08,541.66 314.35,541.45 C317.61,541.24 322.26,540 325.39,539.9 C328.52,539.8 330.68,540.65 333.12,540.83 C335.55,541.01 338.45,540.83 340.02,540.99 C341.58,541.14 341.4,541.22 342.5,541.76 C343.6,542.3 345.03,543.57 346.64,544.24 C348.25,544.91 349.54,545.38 352.16,545.79 C354.78,546.2 359.01,546.51 362.37,546.72 C365.73,546.93 369.18,547.08 372.31,547.03 C375.44,546.98 378.56,546.82 381.14,546.41 C383.72,546 385.74,545.32 387.76,544.55 C389.79,543.77 391.86,541.91 393.28,541.76 C394.71,541.61 395.08,542.85 396.32,543.62 C397.56,544.39 398.25,545.63 400.74,546.41 C403.22,547.18 407.59,547.8 411.22,548.27 C414.86,548.74 418.58,548.89 422.54,549.2 C426.5,549.51 429.85,549.92 434.96,550.13 C440.07,550.34 450.14,550.39 453.18,550.44" fill="none" stroke="#268a9b" stroke-width="2.6" stroke-linejoin="round" stroke-linecap="round"/><path d="M286.47,562.22 C287.25,562.27 289.09,561.75 291.16,562.53 C293.23,563.3 296.45,566.87 298.89,566.87 C301.33,566.87 303.49,563.82 305.79,562.53 C308.09,561.24 310.99,559.38 312.69,559.12 C314.39,558.86 314.9,559.84 316,560.98 C317.11,562.12 317.48,564.52 319.32,565.94 C321.16,567.36 323.59,568.45 327.04,569.5 C330.49,570.56 336.75,571.7 340.02,572.29 C343.28,572.89 343.83,573.12 346.64,573.07 C349.45,573.02 353.86,572.71 356.85,571.99 C359.84,571.26 362.23,570.31 364.58,568.73 C366.93,567.15 369.09,564.86 370.93,562.53 C372.77,560.2 374.42,557.67 375.62,554.78 C376.82,551.89 377.05,549.97 378.1,545.17 C379.16,540.37 380.68,532.87 381.97,525.95 C383.26,519.03 384.73,510.19 385.83,503.63 C386.94,497.07 387.67,492.21 388.59,486.58 C389.51,480.95 390.39,473.72 391.35,469.84 C392.32,465.97 393.42,464.57 394.39,463.33 C395.35,462.09 396.23,462.09 397.15,462.4 C398.07,462.71 398.99,463.02 399.91,465.19 C400.83,467.36 401.75,471.55 402.67,475.42 C403.59,479.3 404.51,484.2 405.43,488.44 C406.35,492.68 407.27,497.79 408.19,500.84 C409.11,503.89 410.03,505.08 410.95,506.73 C411.87,508.38 412.6,510.3 413.71,510.76 C414.81,511.22 416.42,508.95 417.57,509.52 C418.72,510.09 419.69,511.64 420.61,514.17 C421.53,516.7 422.17,520.42 423.09,524.71 C424.01,529 424.98,535.3 426.13,539.9 C427.28,544.5 428.52,548.99 429.99,552.3 C431.46,555.61 433.07,557.26 434.96,559.74 C436.85,562.22 439.24,565.32 441.31,567.18 C443.38,569.04 445.45,570.1 447.38,570.9 C449.31,571.7 451.98,571.8 452.9,571.99" fill="none" stroke="#d74164" stroke-width="2.6" stroke-linejoin="round" stroke-linecap="round"/><path d="M286.47,538.66 C287.25,539.12 289.42,540.31 291.16,541.45 C292.91,542.59 294.98,544.6 296.96,545.48 C298.94,546.36 300.59,546.82 303.03,546.72 C305.47,546.62 308.28,544.86 311.59,544.86 C314.9,544.86 318.99,546.1 322.9,546.72 C326.81,547.34 332.2,548.06 335.05,548.58 C337.9,549.1 337.81,549.1 340.02,549.82 C342.22,550.54 345.49,552.27 348.3,552.92 C351.1,553.57 354.14,553.75 356.85,553.69 C359.57,553.64 362.28,553.2 364.58,552.61 C366.88,552.02 368.58,551.45 370.65,550.13 C372.72,548.81 374.61,547.5 377,544.71 C379.39,541.92 382.75,536.52 385,533.39 C387.26,530.26 388.64,527.97 390.52,525.95 C392.41,523.94 394.3,522.07 396.32,521.3 C398.34,520.52 400.6,521.14 402.67,521.3 C404.74,521.45 406.81,522.7 408.74,522.23 C410.67,521.76 412.42,519.54 414.26,518.51 C416.1,517.48 418.17,515.77 419.78,516.03 C421.39,516.29 422.63,518.41 423.92,520.06 C425.21,521.71 426.17,524.09 427.51,525.95 C428.84,527.81 430.27,529.93 431.92,531.22 C433.58,532.51 435.7,532.87 437.44,533.7 C439.19,534.53 440.76,534.94 442.41,536.18 C444.07,537.42 445.63,539.38 447.38,541.14 C449.13,542.9 451.98,545.79 452.9,546.72" fill="none" stroke="#eba037" stroke-width="2.6" stroke-linejoin="round" stroke-linecap="round"/><line x1="295.2" y1="464.4" x2="313" y2="464.4" stroke="#268a9b" stroke-width="2.7" stroke-linecap="round"/><text x="315.6" y="467.9" font-size="10" text-anchor="start" fill="#000" font-weight="bold" >CP</text><line x1="295.2" y1="477.2" x2="313" y2="477.2" stroke="#d74164" stroke-width="2.7" stroke-linecap="round"/><text x="315.6" y="480.7" font-size="10" text-anchor="start" fill="#000" font-weight="bold" >ICG</text><line x1="295.2" y1="490.1" x2="313" y2="490.1" stroke="#eba037" stroke-width="2.7" stroke-linecap="round"/><text x="315.6" y="493.6" font-size="10" text-anchor="start" fill="#000" font-weight="bold" >CP@ICG</text><line x1="515.8" y1="587.12" x2="652.45" y2="479.82" stroke="#4a7bd3" stroke-width="2"/><circle cx="515.8" cy="589.73" r="2.7" fill="#d00c14"/><circle cx="538.57" cy="571.02" r="2.7" fill="#d00c14"/><circle cx="561.35" cy="548.85" r="2.7" fill="#d00c14"/><circle cx="584.12" cy="532.56" r="2.7" fill="#d00c14"/><circle cx="606.9" cy="511.08" r="2.7" fill="#d00c14"/><circle cx="629.67" cy="496" r="2.7" fill="#d00c14"/><circle cx="652.45" cy="485.09" r="2.7" fill="#d00c14"/><rect x="504.5" y="449.6" width="193.5" height="155.7" fill="none" stroke="#000" stroke-width="2.6"/><line x1="501.5" y1="449.4" x2="504.5" y2="449.4" stroke="#000" stroke-width="2.0"/><text x="499.4" y="453.7" font-size="10" text-anchor="end" fill="#000" font-weight="bold" >5</text><line x1="501.5" y1="484.05" x2="504.5" y2="484.05" stroke="#000" stroke-width="2.0"/><text x="499.4" y="488.35" font-size="10" text-anchor="end" fill="#000" font-weight="bold" >4</text><line x1="501.5" y1="518.7" x2="504.5" y2="518.7" stroke="#000" stroke-width="2.0"/><text x="499.4" y="523" font-size="10" text-anchor="end" fill="#000" font-weight="bold" >3</text><line x1="501.5" y1="553.35" x2="504.5" y2="553.35" stroke="#000" stroke-width="2.0"/><text x="499.4" y="557.65" font-size="10" text-anchor="end" fill="#000" font-weight="bold" >2</text><line x1="501.5" y1="588" x2="504.5" y2="588" stroke="#000" stroke-width="2.0"/><text x="499.4" y="592.3" font-size="10" text-anchor="end" fill="#000" font-weight="bold" >1</text><line x1="515.8" y1="605.3" x2="515.8" y2="608.3" stroke="#000" stroke-width="2.0"/><text x="515.8" y="620.2" font-size="10" text-anchor="middle" fill="#000" font-weight="bold" >0.01</text><line x1="561.35" y1="605.3" x2="561.35" y2="608.3" stroke="#000" stroke-width="2.0"/><text x="561.35" y="620.2" font-size="10" text-anchor="middle" fill="#000" font-weight="bold" >0.02</text><line x1="606.9" y1="605.3" x2="606.9" y2="608.3" stroke="#000" stroke-width="2.0"/><text x="606.9" y="620.2" font-size="10" text-anchor="middle" fill="#000" font-weight="bold" >0.03</text><line x1="652.45" y1="605.3" x2="652.45" y2="608.3" stroke="#000" stroke-width="2.0"/><text x="652.45" y="620.2" font-size="10" text-anchor="middle" fill="#000" font-weight="bold" >0.04</text><line x1="698" y1="605.3" x2="698" y2="608.3" stroke="#000" stroke-width="2.0"/><text x="698" y="620.2" font-size="10" text-anchor="middle" fill="#000" font-weight="bold" >0.05</text><text x="0" y="0" font-size="13.4" text-anchor="middle" font-weight="bold" transform="translate(489,527.5) rotate(-90)">Abs (a.u.)</text><text x="601" y="638.3" font-size="13.4" text-anchor="middle" fill="#000" font-weight="bold" >Concentration (mg/mL)</text><text x="636.2" y="561.7" font-size="10.3" text-anchor="middle" fill="#000" font-weight="bold" >y = 103.22x - 0.0068</text><text x="638.9" y="575" font-size="10.3" text-anchor="middle" fill="#000" font-weight="bold" >R<tspan font-size="6.5" dy="-3.5">2</tspan><tspan dy="3.5"> = 0.9934</tspan></text></g>
</svg>
</body></html>
